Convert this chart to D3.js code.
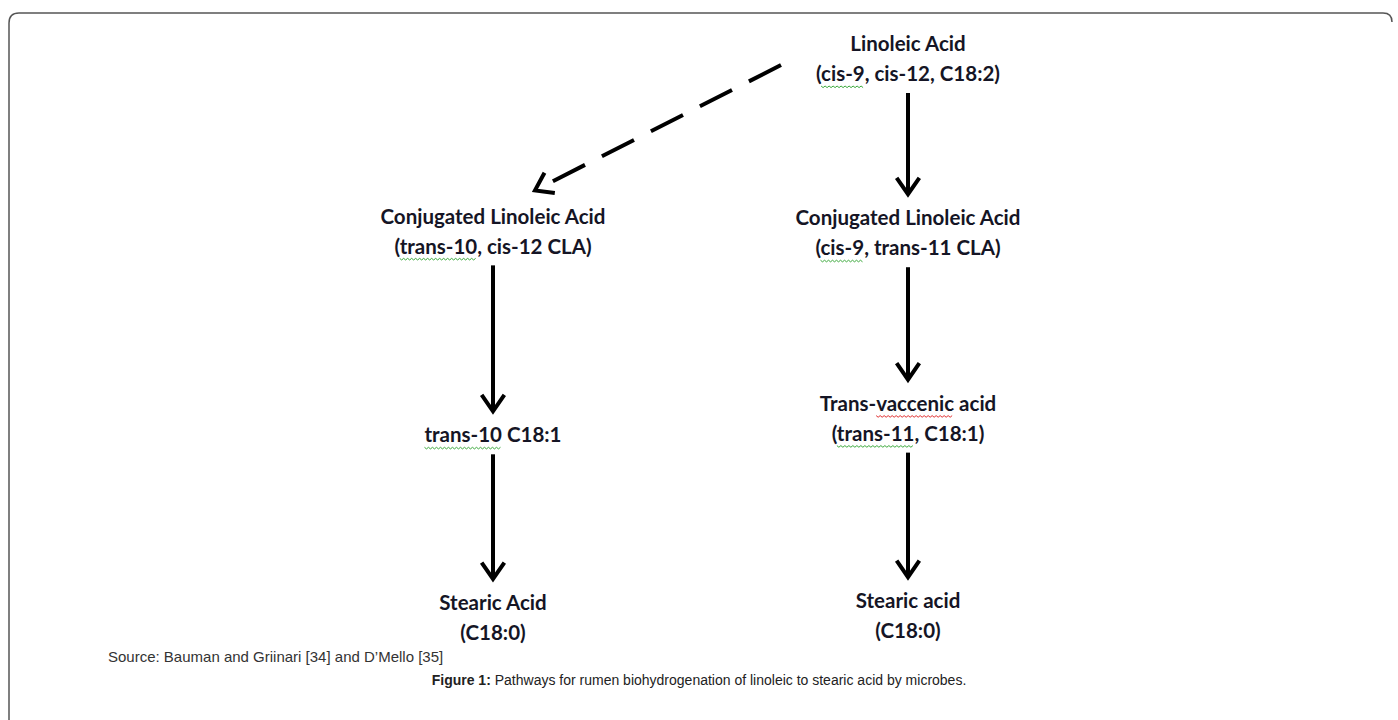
<!DOCTYPE html>
<html>
<head>
<meta charset="utf-8">
<style>
    body { margin: 0; background-color: #ffffff; }
    svg { display: block; }
</style>
</head>
<body>
<script src="https://cdn.jsdelivr.net/npm/d3@7"></script>
<script>
    // node labels, one entry per box of the pathway
    var nodeTitles = ["Linoleic Acid", "Conjugated Linoleic Acid", "Conjugated Linoleic Acid",
        "trans-10 C18:1", "Trans-vaccenic acid", "Stearic Acid", "Stearic acid"];
    var nodeSubtitles = ["(cis-9, cis-12, C18:2)", "(trans-10, cis-12 CLA)", "(cis-9, trans-11 CLA)",
        "", "(trans-11, C18:1)", "(C18:0)", "(C18:0)"];
    // column (0 = left pathway, 1 = main pathway) and step of each node
    var nodeColumn = [1, 0, 1, 0, 1, 0, 1];
    var nodeStep = [0, 0.925, 0.935, 2.1, 1.93, 3, 2.99];

    // arrows: source node, target node, dashed?
    var linkSource = [0, 0, 1, 2, 3, 4];
    var linkTarget = [1, 2, 3, 4, 5, 6];
    var linkDashed = [true, false, false, false, false, false];

    // words flagged by the word processor's spell check: node, line, word, colour
    var flagNode = [0, 1, 2, 3, 4, 4];
    var flagLine = [1, 1, 1, 0, 0, 1];
    var flagWord = ["cis-9", "trans-10", "cis-9", "trans-10", "vaccenic", "trans-11"];
    var flagColor = ["#3aa83a", "#3aa83a", "#3aa83a", "#3aa83a", "#e03030", "#3aa83a"];

    var sourceText = "Source: Bauman and Griinari [34] and D\u2019Mello [35]";
    var captionBold = "Figure 1:";
    var captionText = " Pathways for rumen biohydrogenation of linoleic to stearic acid by microbes.";

    var w = 1398, h = 720;
    var lineGap = 30;

    var svg = d3.select("body").append("svg")
        .attr("width", w)
        .attr("height", h);

    // frame of the figure
    svg.append("path")
        .attr("d", "M9," + h + " V23 Q9,13 19,13 H1383 Q1392,13 1392,22")
        .attr("fill", "none")
        .attr("stroke", "#555")
        .attr("stroke-width", 1.5);

    var x = d3.scaleLinear().domain([0, 1]).range([493, 908]);
    var y = d3.scaleLinear().domain([0, 3]).range([44, 603]);

    var nodes = nodeTitles.map(function (t, i) {
        var lines = nodeSubtitles[i] ? [t, nodeSubtitles[i]] : [t];
        var cy = y(nodeStep[i]);
        return {
            lines: lines,
            x: x(nodeColumn[i]),
            y: cy,
            top: cy - 10,
            bottom: cy + (lines.length - 1) * lineGap + 10
        };
    });

    var nodeG = svg.append("g")
        .attr("font-family", "Lato, 'Open Sans', sans-serif")
        .attr("font-weight", "bold")
        .attr("font-size", "20.5px")
        .attr("fill", "#151525");

    var textEls = [];
    nodes.forEach(function (n, i) {
        textEls[i] = [];
        n.lines.forEach(function (line, j) {
            var t = nodeG.append("text")
                .attr("x", n.x)
                .attr("y", n.y + j * lineGap)
                .attr("dy", "0.35em")
                .attr("text-anchor", "middle")
                .text(line);
            textEls[i][j] = t;
        });
    });

    // wavy spell-check underlines
    var wave = svg.append("g").attr("fill", "none").attr("stroke-width", 1);
    flagWord.forEach(function (word, k) {
        var el = textEls[flagNode[k]][flagLine[k]].node();
        var str = el.textContent;
        var idx = str.indexOf(word);
        var total = el.getComputedTextLength();
        var x0 = nodes[flagNode[k]].x - total / 2 + el.getSubStringLength(0, idx);
        var len = el.getSubStringLength(idx, word.length);
        var yy = nodes[flagNode[k]].y + flagLine[k] * lineGap + 12;
        var pts = [];
        for (var s = 0; s <= len; s += 2) {
            pts.push([x0 + s, yy + ((s / 2) % 2 === 0 ? 0 : 1.6)]);
        }
        wave.append("path")
            .attr("d", d3.line()(pts))
            .attr("stroke", flagColor[k]);
    });

    // arrows
    var arrowG = svg.append("g")
        .attr("stroke", "#000")
        .attr("stroke-width", 4)
        .attr("fill", "none");

    function head(x2, y2, ang) {
        var len = 20, spread = Math.PI / 5.2;
        var a1 = ang + Math.PI - spread, a2 = ang + Math.PI + spread;
        return "M" + (x2 + len * Math.cos(a1)) + "," + (y2 + len * Math.sin(a1)) +
            " L" + x2 + "," + y2 +
            " L" + (x2 + len * Math.cos(a2)) + "," + (y2 + len * Math.sin(a2));
    }

    linkSource.forEach(function (s, i) {
        var a = nodes[s], b = nodes[linkTarget[i]];
        var x1, y1, x2, y2;
        if (linkDashed[i]) {
            x1 = a.x - 127; y1 = a.y + 21;
            x2 = b.x + 42; y2 = b.top - 16;
        } else {
            x1 = a.x; y1 = a.bottom + 9;
            x2 = b.x; y2 = b.top - 14;
        }
        var ang = Math.atan2(y2 - y1, x2 - x1);
        arrowG.append("line")
            .attr("x1", x1).attr("y1", y1)
            .attr("x2", x2 - 2 * Math.cos(ang)).attr("y2", y2 - 2 * Math.sin(ang))
            .attr("stroke-dasharray", linkDashed[i] ? "36,19" : null);
        arrowG.append("path")
            .attr("d", head(x2, y2, ang))
            .attr("stroke-linejoin", "miter");
    });

    // source note and caption
    svg.append("text")
        .attr("x", 108)
        .attr("y", 662)
        .attr("font-family", "'Liberation Sans', Arial, sans-serif")
        .attr("font-size", "15px")
        .attr("fill", "#333")
        .text(sourceText);

    var cap = svg.append("text")
        .attr("x", w / 2)
        .attr("y", 685)
        .attr("text-anchor", "middle")
        .attr("font-family", "'Liberation Sans', Arial, sans-serif")
        .attr("font-size", "14px")
        .attr("fill", "#222");
    cap.append("tspan").attr("font-weight", "bold").text(captionBold);
    cap.append("tspan").text(captionText);
</script>
</body>
</html>
